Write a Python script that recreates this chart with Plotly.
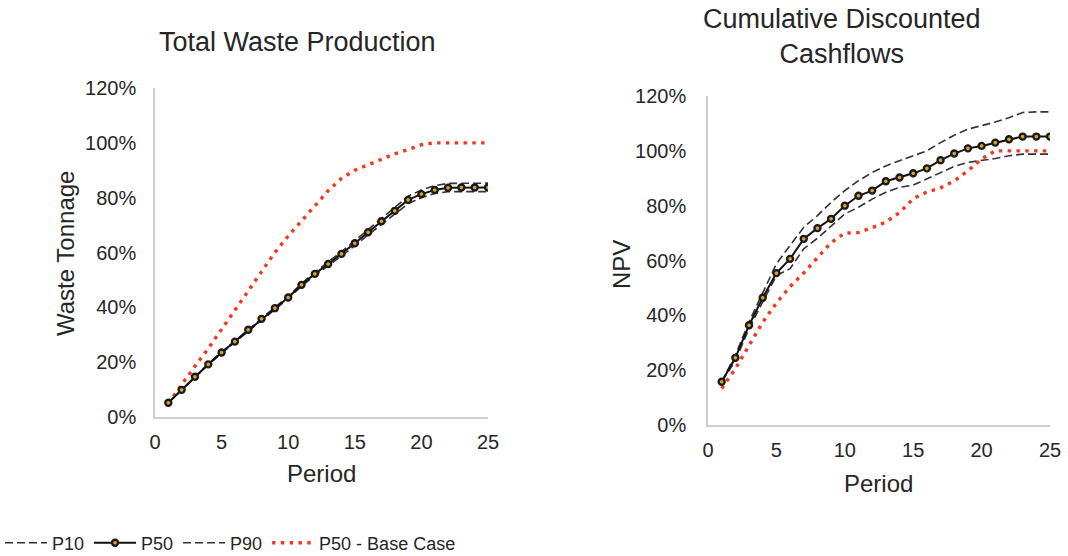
import plotly.graph_objects as go

W, H = 1068, 556

periods = list(range(1, 26))

# Left chart: Total Waste Production (% of base case)
waste_p10 = [5.2, 9.8, 14.6, 19.0, 23.3, 27.3, 31.5, 35.5, 39.4, 43.2, 47.7, 51.6, 55.1, 58.7, 62.5,
             66.4, 70.3, 74.0, 77.8, 80.0, 81.5, 82.2, 82.2, 82.2, 82.2]
waste_p50 = [5.2, 9.9, 14.7, 19.2, 23.5, 27.5, 31.8, 35.8, 39.7, 43.6, 48.2, 52.2, 55.8, 59.5, 63.4,
             67.4, 71.4, 75.2, 79.2, 81.3, 82.8, 83.6, 83.7, 83.7, 83.7]
waste_p90 = [5.2, 10.0, 14.8, 19.4, 23.7, 27.8, 32.1, 36.1, 40.0, 44.0, 48.7, 52.8, 56.5, 60.3, 64.3,
             68.4, 72.5, 76.4, 80.5, 82.8, 84.4, 85.2, 85.3, 85.3, 85.3]
waste_base = [5.0, 12.0, 18.5, 25.0, 32.0, 39.0, 46.0, 53.0, 60.0, 66.0, 71.5, 77.0, 82.5, 87.0, 90.0,
              92.0, 94.0, 96.0, 97.5, 99.3, 100.0, 100.0, 100.0, 100.0, 100.0]

# Right chart: Cumulative Discounted Cashflows (NPV, % of base case)
npv_p10 = [15.8, 23.4, 35.2, 44.9, 54.5, 57.0, 64.3, 68.1, 72.7, 77.0, 79.4, 82.4, 84.9, 86.7, 87.5,
           89.7, 92.1, 94.3, 95.8, 96.4, 97.2, 98.2, 98.8, 98.8, 98.8]
npv_p50 = [15.8, 24.5, 36.4, 46.4, 55.4, 60.6, 67.9, 71.8, 75.2, 80.0, 83.6, 85.5, 88.9, 90.3, 91.8,
           93.6, 96.6, 99.0, 100.9, 101.8, 103.0, 104.2, 105.2, 105.2, 105.2]
npv_p90 = [15.8, 25.5, 37.6, 48.5, 58.8, 65.5, 72.1, 76.4, 81.2, 85.5, 89.1, 92.1, 94.5, 96.4, 98.2,
           100.0, 103.0, 105.7, 107.9, 109.1, 110.5, 112.1, 114.0, 114.2, 114.2]
npv_base = [13.3, 20.5, 29.0, 37.5, 44.5, 50.5, 55.5, 61.0, 66.5, 70.0, 70.2, 72.0, 74.0, 77.5, 82.5,
            85.0, 86.5, 89.0, 92.7, 97.0, 100.0, 100.0, 100.0, 100.0, 100.0]

x_ticks = [0, 5, 10, 15, 20, 25]
y_ticks = [0, 20, 40, 60, 80, 100, 120]
y_tick_labels = ["0%", "20%", "40%", "60%", "80%", "100%", "120%"]

FONT = "Liberation Sans, Arial, sans-serif"
TXT = "#262626"
AXIS = "#cfcfcf"
RED = "#f4361f"


def xp(px):
    return px / W


def yp(py):
    return 1 - py / H


fig = go.Figure()

def add_set(xa, ya, p10, p50, p90, base, legend):
    fig.add_trace(go.Scatter(x=periods, y=p10, name="P10", mode="lines", xaxis=xa, yaxis=ya,
                             line=dict(color="#333333", width=1.6, dash="8px,4px"),
                             showlegend=legend, legendrank=1))
    fig.add_trace(go.Scatter(x=periods, y=p90, name="P90", mode="lines", xaxis=xa, yaxis=ya,
                             line=dict(color="#333333", width=1.6, dash="8px,4px"),
                             showlegend=legend, legendrank=3))
    fig.add_trace(go.Scatter(x=periods, y=base, name="P50 - Base Case", mode="lines", xaxis=xa, yaxis=ya,
                             line=dict(color=RED, width=3.4, dash="3.4px,5.4px"),
                             showlegend=legend, legendrank=4))
    fig.add_trace(go.Scatter(x=periods, y=p50, name="P50", mode="lines+markers", xaxis=xa, yaxis=ya,
                             line=dict(color="#111111", width=2),
                             marker=dict(symbol="circle", size=6, color="#d9a520",
                                         line=dict(color="#1a1a1a", width=2.4)),
                             showlegend=legend, legendrank=2))

add_set("x", "y", waste_p10, waste_p50, waste_p90, waste_base, True)
add_set("x2", "y2", npv_p10, npv_p50, npv_p90, npv_base, False)

common_x = dict(range=[0, 25], tickvals=x_ticks, showgrid=False, zeroline=False, showline=True,
                linecolor=AXIS, linewidth=1.5, ticks="", ticklabelstandoff=6, automargin=False,
                tickfont=dict(family=FONT, size=20, color=TXT), fixedrange=True)
common_y = dict(range=[0, 120], tickvals=y_ticks, ticktext=y_tick_labels, showgrid=False, zeroline=False,
                showline=True, linecolor=AXIS, linewidth=1.5, ticks="", automargin=False,
                tickfont=dict(family=FONT, size=20, color=TXT), fixedrange=True)

fig.update_layout(
    width=W, height=H,
    margin=dict(l=0, r=0, t=0, b=0, autoexpand=False),
    paper_bgcolor="white", plot_bgcolor="white",
    font=dict(family=FONT, color=TXT),
    xaxis=dict(domain=[xp(155), xp(488)], anchor="y", **common_x),
    yaxis=dict(domain=[yp(417), yp(88)], anchor="x", ticklabelstandoff=13, **common_y),
    xaxis2=dict(domain=[xp(708), xp(1050)], anchor="y2", **common_x),
    yaxis2=dict(domain=[yp(425), yp(96)], anchor="x2", ticklabelstandoff=16, **common_y),
    legend=dict(orientation="h", x=0, xanchor="left", y=yp(543), yanchor="middle",
                font=dict(family=FONT, size=18, color=TXT), bgcolor="rgba(0,0,0,0)",
                traceorder="normal", itemwidth=42),
    showlegend=True,
)

annos = [
    dict(text="Total Waste Production", x=xp(297), y=yp(42), size=27),
    dict(text="Cumulative Discounted<br>Cashflows", x=xp(842), y=yp(36), size=27),
    dict(text="Period", x=xp(321), y=yp(473), size=24),
    dict(text="Period", x=xp(878), y=yp(483), size=24),
]
for a in annos:
    fig.add_annotation(text=a["text"], x=a["x"], y=a["y"], xref="paper", yref="paper",
                       showarrow=False, xanchor="center", yanchor="middle",
                       font=dict(family=FONT, size=a["size"], color=TXT))
fig.add_annotation(text="Waste Tonnage", x=xp(65), y=yp(254), xref="paper", yref="paper",
                   showarrow=False, textangle=-90, xanchor="center", yanchor="middle",
                   font=dict(family=FONT, size=24, color=TXT))
fig.add_annotation(text="NPV", x=xp(622), y=yp(265), xref="paper", yref="paper",
                   showarrow=False, textangle=-90, xanchor="center", yanchor="middle",
                   font=dict(family=FONT, size=24, color=TXT))

fig.write_html("out.html")
